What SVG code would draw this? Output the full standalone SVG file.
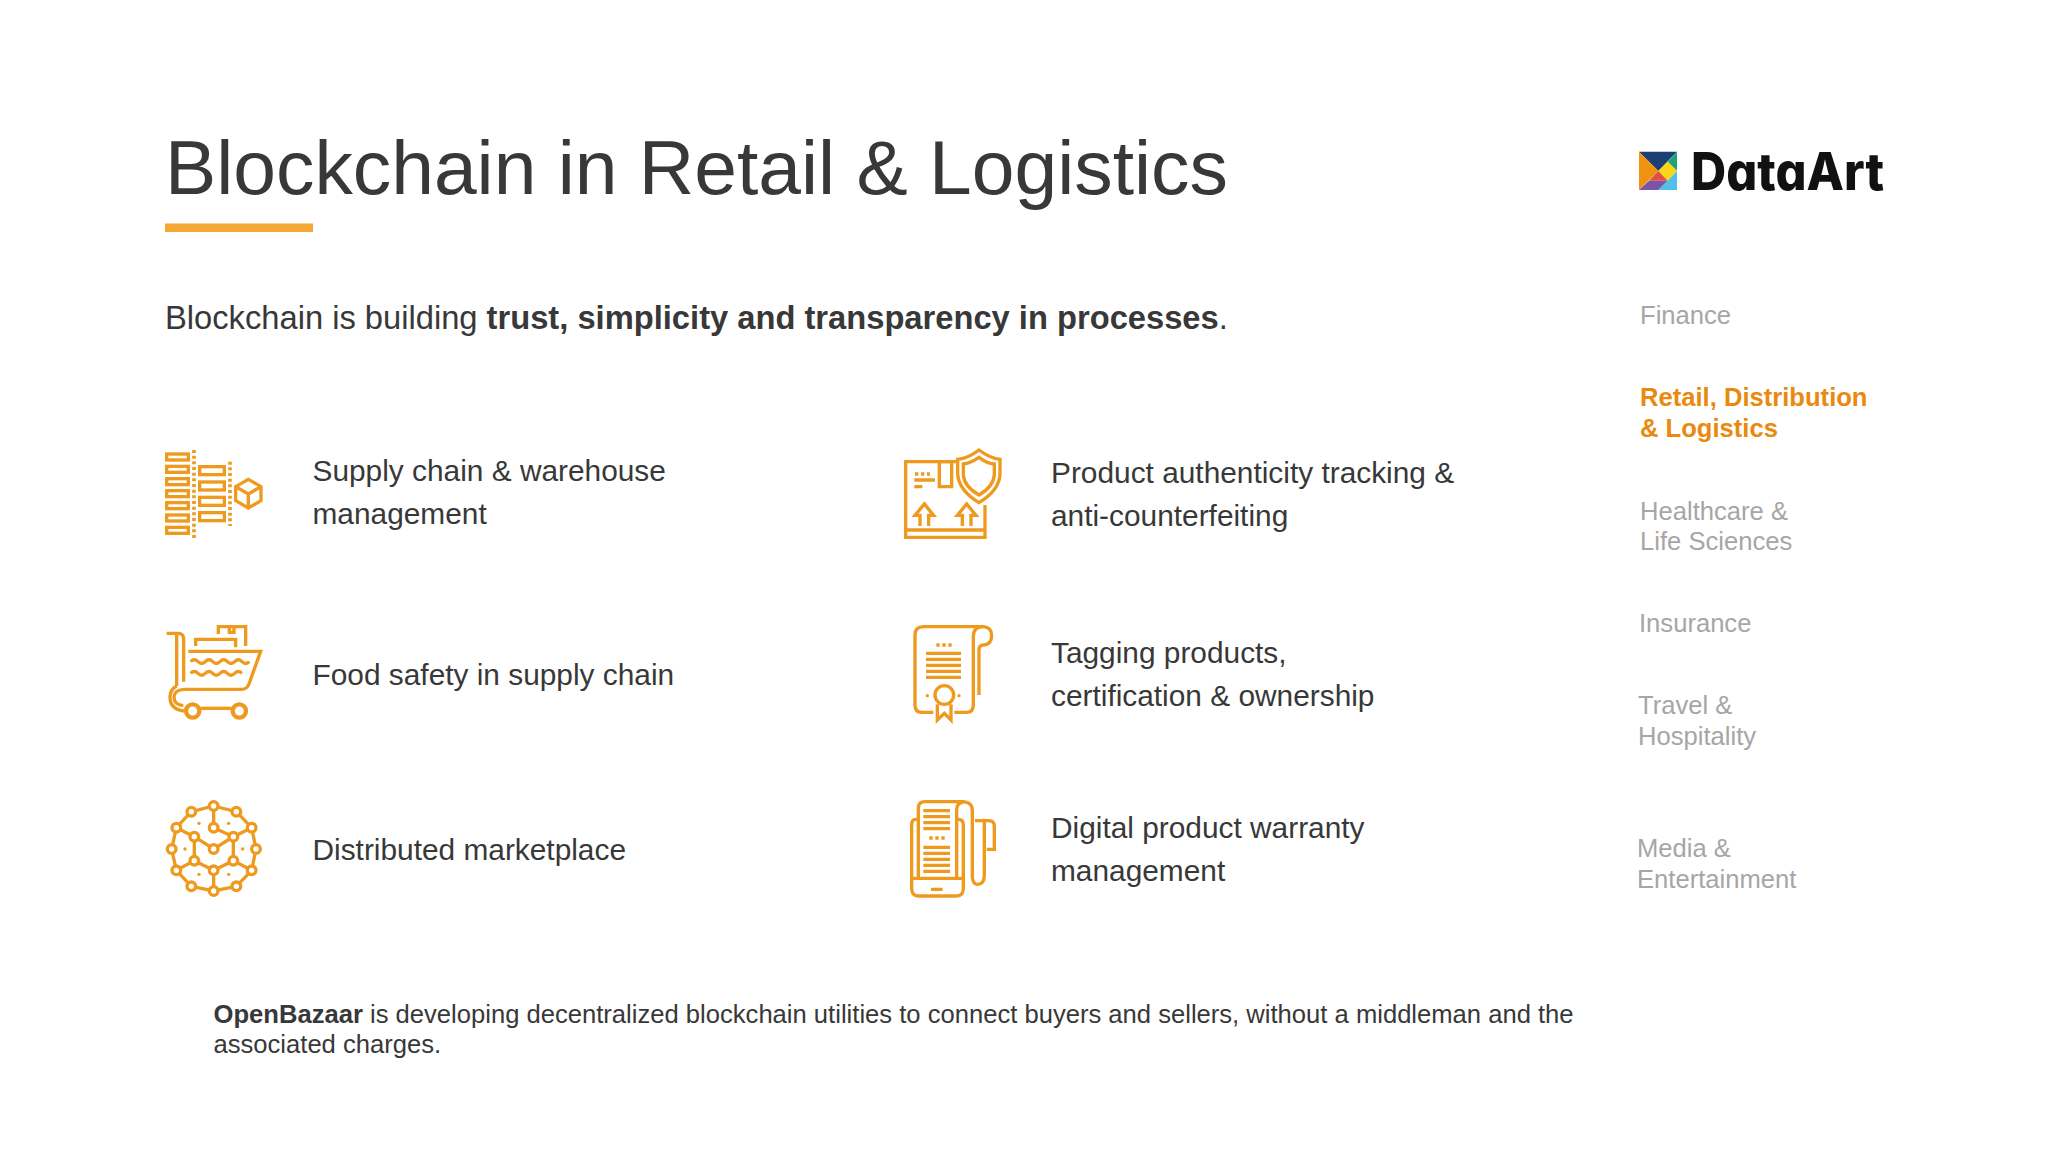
<svg xmlns="http://www.w3.org/2000/svg" width="2048" height="1152" viewBox="0 0 2048 1152">
<style>
text{font-family:"Liberation Sans",Arial,sans-serif;fill:#383838}
.t{font-size:29.85px}
.n{font-size:25.6px;fill:#a6a6a6}
.b{font-size:25.6px}
.ic{fill:none;stroke:#ee9a1f;stroke-width:10}
.d{fill:#ee9a1f;stroke:none}
</style>
<rect width="2048" height="1152" fill="#fff"/>
<text id="title" x="165" y="193.5" font-size="76.8">Blockchain in Retail &amp; Logistics</text>
<rect x="165" y="223.500" width="148" height="8.500" fill="#f5a733"/>
<text id="sub" x="165" y="328.500" font-size="32.7">Blockchain is building <tspan font-weight="700">trust, simplicity and transparency in processes</tspan>.</text>

<g id="logo" transform="translate(1625,135) scale(.3333)">
<polygon points="42,50 156,50 100,108" fill="#1d3f72"/>
<polygon points="156,50 156,108 128,80" fill="#1fa37a"/>
<polygon points="42,50 100,108 42,165" fill="#f0920f"/>
<polygon points="128,80 156,108 128,137 100,108" fill="#fbd516"/>
<polygon points="72,137 100,108 128,137" fill="#e2503c"/>
<polygon points="42,165 72,137 128,137 100,165" fill="#7a55a5"/>
<polygon points="156,108 156,165 100,165 128,137" fill="#4fc0e8"/>
</g>
<text id="logotext" x="1691" y="190" font-size="52" font-weight="800" textLength="193" lengthAdjust="spacingAndGlyphs" style="font-family:Inter,'Liberation Sans',sans-serif;fill:#111;font-feature-settings:'cv11'">DataArt</text>

<g id="item1"><g class="ic" transform="translate(150,430) scale(.3333)">
<rect x="50" y="72" width="65" height="18"/><rect x="50" y="109" width="65" height="18"/><rect x="50" y="146" width="65" height="18"/><rect x="50" y="182" width="65" height="18"/><rect x="50" y="218" width="65" height="18"/><rect x="50" y="255" width="65" height="18"/><rect x="50" y="292" width="65" height="18"/>
<path d="M132 60V325" stroke-width="11" stroke-dasharray="9 8"/>
<rect x="149" y="110" width="74" height="24"/><rect x="149" y="156" width="74" height="24"/><rect x="149" y="202" width="74" height="24"/><rect x="149" y="248" width="74" height="24"/>
<path d="M240 95V288" stroke-width="11" stroke-dasharray="9 8"/>
<path d="M295 148L333 170V212L295 234L257 212V170ZM257 170L295 192L333 170M295 192V234"/>
</g><text class="t" x="312.500" y="480.500">Supply chain &amp; warehouse</text><text class="t" x="312.500" y="523.500">management</text></g>

<g id="item2"><g class="ic" transform="translate(150,610) scale(.3333)">
<path d="M50 70H85Q101 70 101 88V215M80 75V228"/>
<path d="M115 124H332L297 222Q291 238 275 238H102Q72 240 72 262Q72 285 100 287M80 228Q60 238 60 262Q60 298 102 303"/>
<circle cx="128" cy="303" r="20" stroke-width="13"/><circle cx="268" cy="303" r="20" stroke-width="13"/>
<path d="M152 295H244"/>
<path d="M137 108V88H257V112M205 72V50H287V108M238 55V67H252V55"/>
<path d="M122 155q11 -11 22 0t22 0t22 0t22 0t22 0t22 0t22 0t22 0M122 190q11 -11 22 0t22 0t22 0t22 0t22 0t22 0t22 0"/>
</g><text class="t" x="312.500" y="684.500">Food safety in supply chain</text></g>

<g id="item3"><g class="ic" transform="translate(150,790) scale(.3333)">
<path d="M191 48L259 65L305 113L318 177L305 241L259 289L191 303L124 289L79 241L65 177L79 113L124 65ZM191 48V113L250 140L191 177L133 140L79 113M250 140L305 113M133 140V212L79 241M250 140V212L305 241M133 212L191 241L250 212M191 241V303M79 241L124 289"/>
<g fill="#fff"><circle cx="191" cy="48" r="13"/><circle cx="259" cy="65" r="13"/><circle cx="305" cy="113" r="13"/><circle cx="318" cy="177" r="13"/><circle cx="305" cy="241" r="13"/><circle cx="259" cy="289" r="13"/><circle cx="191" cy="303" r="13"/><circle cx="124" cy="289" r="13"/><circle cx="79" cy="241" r="13"/><circle cx="65" cy="177" r="13"/><circle cx="79" cy="113" r="13"/><circle cx="124" cy="65" r="13"/><circle cx="191" cy="113" r="13"/><circle cx="250" cy="140" r="13"/><circle cx="133" cy="140" r="13"/><circle cx="191" cy="177" r="13"/><circle cx="133" cy="212" r="13"/><circle cx="250" cy="212" r="13"/><circle cx="191" cy="241" r="13"/></g>
<circle class="d" cx="147" cy="100" r="5"/><circle class="d" cx="236" cy="100" r="5"/><circle class="d" cx="105" cy="177" r="5"/><circle class="d" cx="278" cy="177" r="5"/><circle class="d" cx="147" cy="253" r="5"/><circle class="d" cx="236" cy="253" r="5"/>
</g><text class="t" x="312.500" y="859.500">Distributed marketplace</text></g>

<g id="item4"><g class="ic" transform="translate(895,440) scale(.3333)">
<path d="M270 195V292H32V65H190M36 270H268"/>
<path d="M133 65H170V140H133Z"/>
<path d="M60 102H105" stroke-dasharray="10 8"/><path d="M58 120H120M58 140H82"/>
<path d="M75 258V226H60L88 192L116 226H101V258M202 258V226H187L215 192L243 226H228V258"/>
<path d="M252 30Q220 55 188 58V100Q190 150 252 188Q315 150 315 100V58Q285 55 252 30Z"/>
<path d="M252 52Q225 70 205 72V105Q208 140 252 165Q295 140 298 105V72Q275 70 252 52Z"/>
</g><text class="t" x="1051" y="482.500">Product authenticity tracking &amp;</text><text class="t" x="1051" y="525.500">anti-counterfeiting</text></g>

<g id="item5"><g class="ic" transform="translate(895,615) scale(.3333)">
<path d="M115 292H80Q60 292 60 270V60Q60 35 85 35H265Q290 37 290 62Q290 88 265 90Q252 90 252 105V240"/>
<path d="M265 35Q235 35 235 65V270Q235 292 215 292H178"/>
<path d="M124 90H172" stroke-dasharray="10 8"/>
<path d="M93 115H198M93 133H198M93 151H198M93 169H198M93 187H198"/>
<circle cx="148" cy="240" r="28"/>
<path d="M127 268V315L148 295L168 315V268"/>
<circle class="d" cx="97" cy="242" r="5"/><circle class="d" cx="192" cy="242" r="5"/>
</g><text class="t" x="1051" y="662.500">Tagging products,</text><text class="t" x="1051" y="705.500">certification &amp; ownership</text></g>

<g id="item6"><g class="ic" transform="translate(895,790) scale(.3333)">
<path d="M70 265V55Q70 35 90 35H205Q232 37 232 60V262Q234 283 248 283Q268 283 268 255V95"/>
<path d="M185 265V60Q185 37 205 37"/>
<path d="M240 92H280Q298 92 298 108V178H275"/>
<path d="M70 88H62Q50 88 50 105V295Q50 318 70 318H185Q205 318 205 295V105Q205 88 190 88H185M52 265H205"/>
<path d="M85 62H165M85 80H165M85 98H165M85 116H165M85 172H165M85 190H165M85 208H165M85 226H165M85 244H165M108 298H143"/>
<path d="M103 144H150" stroke-dasharray="10 8"/>
</g><text class="t" x="1051" y="837.500">Digital product warranty</text><text class="t" x="1051" y="880.500">management</text></g>

<g id="nav">
<text class="n" x="1640" y="324">Finance</text>
<text class="n" x="1640" y="406" font-weight="700" style="fill:#e98a0e">Retail, Distribution</text>
<text class="n" x="1640" y="437" font-weight="700" style="fill:#e98a0e">&amp; Logistics</text>
<text class="n" x="1640" y="520">Healthcare &amp;</text>
<text class="n" x="1640" y="550">Life Sciences</text>
<text class="n" x="1639" y="632">Insurance</text>
<text class="n" x="1638" y="714">Travel &amp;</text>
<text class="n" x="1638" y="745">Hospitality</text>
<text class="n" x="1637" y="857">Media &amp;</text>
<text class="n" x="1637" y="888">Entertainment</text>
</g>
<g id="note">
<text class="b" x="213.500" y="1022.500"><tspan font-weight="700">OpenBazaar</tspan> is developing decentralized blockchain utilities to connect buyers and sellers, without a middleman and the</text>
<text class="b" x="213.500" y="1053">associated charges.</text>
</g>
</svg>
